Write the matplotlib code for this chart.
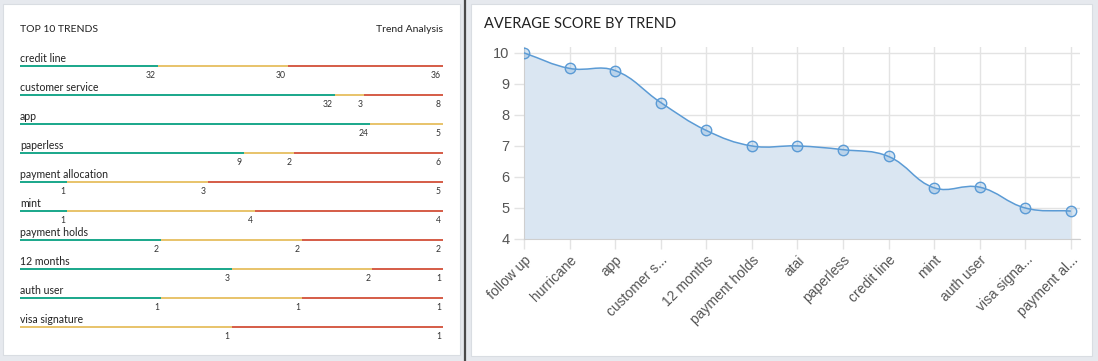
import numpy as np
import matplotlib
matplotlib.use("Agg")
import matplotlib.pyplot as plt
from matplotlib.patches import Rectangle, PathPatch
from matplotlib.path import Path

# ---- data ----
trend_names = ["credit line", "customer service", "app", "paperless",
               "payment allocation", "mint", "payment holds", "12 months",
               "auth user", "visa signature"]
green_counts = [32, 32, 24, 9, 1, 1, 2, 3, 1, 0]
yellow_counts = [30, 3, 5, 2, 3, 4, 2, 2, 1, 1]
red_counts = [36, 8, 0, 6, 5, 4, 2, 1, 1, 1]

score_labels = ["follow up", "hurricane", "app", "customer s...", "12 months",
                "payment holds", "atai", "paperless", "credit line", "mint",
                "auth user", "visa signa...", "payment al..."]
avg_scores = [10.0, 9.5, 9.43, 8.4, 7.5, 7.0, 7.0, 6.88, 6.66, 5.65, 5.67, 5.0, 4.9]

GREEN = "#1fa98d"
YELLOW = "#e8c46e"
RED = "#d6604b"
LINE = "#5b9bd5"
FILL = "#dae6f2"
GRID = "#e3e3e3"

W, H = 1098, 361
fig = plt.figure(figsize=(W / 100, H / 100), dpi=100)
fig.patch.set_facecolor("#e6e9ee")


def px_rect(x0, y0, x1, y1):
    return [x0 / W, 1 - y1 / H, (x1 - x0) / W, (y1 - y0) / H]


# background panels
bg = fig.add_axes([0, 0, 1, 1])
bg.set_xlim(0, W)
bg.set_ylim(H, 0)
bg.axis("off")
bg.set_zorder(0)
bg.add_patch(Rectangle((3, 4), 457, 351, facecolor="white", edgecolor="#d9dde2", lw=0.8))
bg.add_patch(Rectangle((471, 4), 621, 352, facecolor="white", edgecolor="#d9dde2", lw=0.8))
bg.plot([464.5, 464.5], [0, H], color="#4a4a4a", lw=1.6)
bg.text(20, 29, "TOP 10 TRENDS", fontsize=7.5, family="Lato", color="#222222", va="center")
bg.text(443, 29, "Trend Analysis", fontsize=7.5, family="Lato", color="#222222",
        va="center", ha="right")
bg.text(484, 24, "AVERAGE SCORE BY TREND", fontsize=10.5, family="Lato",
        color="#222222", va="center")

# ---- left: stacked thin bars ----
axl = fig.add_axes(px_rect(20, 40, 443, 345))
axl.set_zorder(1)
axl.patch.set_alpha(0)
axl.set_xlim(0, 1)
axl.set_ylim((345 - 66.3) / 29, (40 - 66.3) / 29)
axl.axis("off")

for i, name in enumerate(trend_names):
    counts = [green_counts[i], yellow_counts[i], red_counts[i]]
    total = sum(counts)
    left = 0
    for c, col in zip(counts, [GREEN, YELLOW, RED]):
        if c == 0:
            continue
        w = c / total
        axl.barh(i, w, left=left, height=0.075, color=col, linewidth=0)
        left += w
        axl.annotate(str(c), (left, i + 0.31), xytext=(-1.5, 0), textcoords="offset points",
                     ha="right", va="center", fontsize=6.2, family="Lato", color="#333333")
    axl.text(0, i - 0.14, name, ha="left", va="baseline", fontsize=7.6,
             family="Lato", color="#222222")

# ---- right: smoothed area line ----
ax = fig.add_axes(px_rect(524, 47, 1080, 239))
ax.set_zorder(1)
ax.set_facecolor("white")
ax.set_xlim(0, 12.2)
ax.set_ylim(4, 10.19)
fig.canvas.draw()

x = np.arange(len(avg_scores), dtype=float)
pts = ax.transData.transform(np.column_stack([x, avg_scores]))
tension = 0.4
verts = [pts[0]]
codes = [Path.MOVETO]
cps = []
for k in range(len(pts)):
    prev = pts[k - 1] if k > 0 else pts[k]
    cur = pts[k]
    nxt = pts[k + 1] if k < len(pts) - 1 else pts[k]
    d01 = np.hypot(*(cur - prev))
    d12 = np.hypot(*(nxt - cur))
    s = d01 + d12
    s01 = d01 / s if s else 0
    s12 = d12 / s if s else 0
    cps.append((cur - tension * s01 * (nxt - prev), cur + tension * s12 * (nxt - prev)))
for k in range(1, len(pts)):
    verts += [cps[k - 1][1], cps[k][0], pts[k]]
    codes += [Path.CURVE4] * 3
inv = ax.transData.inverted()
verts_d = inv.transform(np.array(verts))

line_path = Path(verts_d, codes)
fill_verts = np.vstack([verts_d, [[x[-1], 4], [x[0], 4], verts_d[0]]])
fill_codes = codes + [Path.LINETO, Path.LINETO, Path.CLOSEPOLY]
ax.add_patch(PathPatch(Path(fill_verts, fill_codes), facecolor=FILL, edgecolor="none", zorder=1))
ax.add_patch(PathPatch(line_path, facecolor="none", edgecolor=LINE, lw=1.1, zorder=3))
ax.plot(x, avg_scores, "o", ms=7.5, mfc=(0.36, 0.61, 0.84, 0.25), mec=LINE, mew=1.0, zorder=4)

ax.set_xticks(x)
ax.set_xticklabels(score_labels, rotation=45, ha="right", rotation_mode="anchor",
                   fontsize=10, family="Liberation Sans", color="#555555")
ax.set_yticks(range(4, 11))
ax.set_yticklabels([str(v) for v in range(4, 11)], fontsize=10.5,
                   family="Liberation Sans", color="#555555")
ax.tick_params(axis="both", length=7.5, color=GRID, width=1)
ax.tick_params(axis="x", pad=2.5)
ax.tick_params(axis="y", pad=3)
ax.grid(True, color=GRID, lw=1, zorder=0)
ax.set_axisbelow(True)
for sp in ["top", "right"]:
    ax.spines[sp].set_visible(False)
ax.spines["left"].set_color("#cfcfcf")
ax.spines["bottom"].set_color("#cfcfcf")

fig.savefig("out.png", dpi=100, facecolor=fig.get_facecolor())
